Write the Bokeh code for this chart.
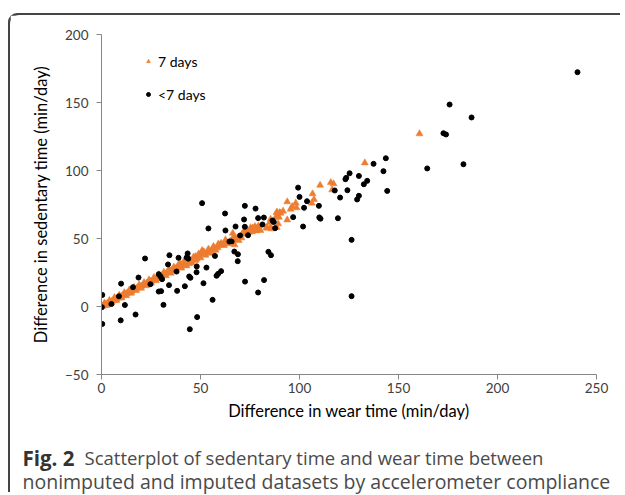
from bokeh.plotting import figure
from bokeh.layouts import column
from bokeh.models import Range1d, Legend, LegendItem, ColumnDataSource
from bokeh.core.properties import value
from bokeh.embed import file_html
from bokeh.resources import INLINE

# ---- data ----
x_ticks = [0, 50, 100, 150, 200, 250]
y_ticks = [-50, 0, 50, 100, 150, 200]
x_title = "Difference in wear time (min/day)"
y_title = "Difference in sedentary time (min/day)"
series_names = ["7 days", "<7 days"]
caption_bold = "Fig. 2"
caption_line1 = "Scatterplot of sedentary time and wear time between"
caption_line2 = "nonimputed and imputed datasets by accelerometer compliance"

full_x = [0.5, 1.2, 2.0, 2.8, 3.5, 4.3, 5.2, 6.0, 6.8, 7.5, 8.4, 9.2, 10.1,
          10.9, 11.8, 12.6, 13.4, 14.3, 15.1, 16.0, 16.8, 17.7, 18.5, 19.4,
          20.2, 21.1, 21.9, 22.8, 23.6, 24.5, 25.3, 26.2, 27.0, 27.9, 28.7, 29.6,
          30.4, 31.3, 32.1, 33.0, 33.8, 34.7, 35.5, 36.4, 37.2, 38.1, 38.9, 39.8,
          40.3, 39.9, 41.6, 42.9, 42.0, 44.1, 44.9, 45.5, 46.3, 47.5, 48.0, 49.1, 50.0,
          50.8, 52.0, 53.4, 54.2, 55.1, 55.9, 56.7, 57.5, 58.7, 59.5, 60.4,
          61.2, 61.9, 62.6, 63.2, 63.9, 65.0, 66.3, 66.8, 67.2, 67.8, 68.5, 69.3, 70.0,
          70.7, 71.0, 71.9, 72.8, 73.6, 74.4, 75.3, 75.0, 76.0, 76.4, 77.0, 77.5, 78.2,
          78.6, 79.2, 79.6, 80.3, 76.5, 77.8, 74.8,
          83.3, 83.8, 85.4, 85.9, 85.4, 85.0, 88.5, 88.0, 89.0, 89.2, 88.4, 90.0, 88.7, 89.6,
          90.4, 91.7, 93.8, 93.8, 95.5, 96.3, 98.1, 98.5,
          106.6, 107.3, 106.2, 110.4, 115.8, 117.2, 116.5, 133.0, 160.6,
          1.5, 4.0, 6.5, 9.0, 11.5, 14.0, 16.5, 19.0, 21.5, 24.0, 26.5, 29.0,
          31.5, 34.0, 36.5, 39.0, 41.5, 44.0, 46.5, 49.0, 51.5, 54.0, 56.5, 59.0,
          2.5, 5.0, 7.5, 10.0, 12.5, 15.0, 17.5, 20.0, 22.5, 25.0, 27.5, 30.0,
          32.5, 35.0, 37.5, 40.0, 42.5, 45.0, 47.5, 50.0, 52.5, 55.0, 57.5]
full_y = [0.2, 0.8, 1.3, 2.1, 2.4, 3.3, 3.8, 4.6, 5.0, 5.8, 6.2, 7.0, 7.4,
          8.3, 8.7, 9.6, 9.9, 10.8, 11.2, 12.1, 12.4, 13.4, 13.7, 14.6,
          15.0, 15.9, 16.2, 17.2, 17.5, 18.4, 18.7, 19.8, 20.1, 21.0, 21.3, 22.3,
          22.6, 23.5, 23.9, 25.0, 25.2, 26.1, 26.5, 27.6, 27.9, 28.7, 29.3, 30.1,
          28.4, 31.4, 30.1, 29.9, 31.6, 31.4, 33.8, 32.5, 35.0, 36.8, 34.9, 36.3, 38.7,
          41.2, 39.7, 39.7, 41.0, 39.2, 41.2, 43.6, 42.0, 43.2, 45.0, 46.5,
          45.2, 44.9, 49.0, 47.0, 46.1, 48.0, 53.9, 51.5, 45.4, 49.0, 50.2, 48.5, 51.0,
          50.5, 53.2, 55.1, 54.0, 55.5, 54.6, 57.9, 56.2, 55.0, 57.8, 56.4, 58.8, 55.6,
          57.5, 59.2, 56.8, 55.9, 56.5, 57.2, 55.8,
          58.1, 57.6, 58.1, 57.1, 64.2, 61.8, 58.1, 65.7, 66.7, 60.8, 69.1, 69.1, 69.3, 65.7,
          68.6, 70.1, 77.0, 63.7, 71.6, 73.5, 76.0, 72.6,
          82.9, 78.7, 76.0, 89.2, 91.2, 90.2, 85.8, 105.6, 127.0,
          2.6, 4.5, 6.6, 8.4, 10.2, 12.1, 14.0, 15.9, 17.6, 19.6, 21.4, 23.4,
          25.2, 27.1, 29.0, 31.0, 32.9, 34.6, 36.4, 38.5, 40.3, 42.2, 44.1, 46.0,
          0.8, 2.6, 4.4, 6.2, 8.0, 9.8, 11.7, 13.5, 15.3, 17.2, 19.0, 20.8,
          22.7, 24.5, 26.4, 28.3, 30.2, 32.0, 33.9, 35.8, 37.7, 39.5, 41.4]

part_x = [0.2, 0.4, 0.4, 5.0, 9.7, 9.9, 8.8, 11.8, 17.2, 15.9, 18.7, 22.0, 24.7,
          28.9, 29.8, 30.6, 34.3, 33.6, 38.9, 37.9, 34.1, 28.9, 30.1, 31.3, 38.2,
          44.6, 48.3, 56.1, 51.5, 44.3, 44.9, 42.1, 48.0, 53.0, 48.1, 43.5, 43.0, 43.8,
          58.1, 58.9, 60.4, 72.5, 68.8, 68.9, 67.1, 79.1, 82.1, 57.3, 84.3, 85.6,
          64.6, 65.7, 70.0, 74.0, 67.7, 62.6, 54.0, 50.8, 62.4, 72.4, 72.0, 72.4,
          77.8, 79.1, 82.0, 81.3, 86.4, 87.0, 87.7, 96.8, 101.8, 99.3, 100.0, 103.8,
          102.3, 109.8, 110.0, 110.6, 119.4, 126.3, 126.3, 117.8, 124.2, 120.5, 130.0,
          129.1, 125.3, 123.6, 123.2, 130.0, 134.2, 132.5, 144.3, 142.4, 137.4, 143.6,
          164.5, 182.8, 172.7, 174.0, 175.8, 186.9, 240.4]
part_y = [-0.5, 8.5, -12.8, 1.8, -10.2, 16.8, 7.5, 1.1, -5.9, 14.2, 21.3, 35.3, 16.4,
          23.8, 22.1, 20.1, 37.7, 30.9, 35.8, 25.7, 15.7, 11.0, 11.3, 1.2, 11.5,
          -16.7, -7.8, 4.9, 17.1, 22.1, 21.1, 14.9, 25.2, 28.6, 29.5, 39.0, 36.0, 35.2,
          22.6, 24.0, 26.0, 18.3, 33.3, 38.4, 40.4, 10.3, 19.4, 37.2, 40.2, 37.7,
          47.8, 47.8, 52.2, 52.4, 58.8, 55.9, 57.4, 76.0, 68.4, 74.0, 64.0, 58.6,
          72.0, 65.0, 65.4, 60.3, 63.2, 62.2, 57.6, 65.7, 58.8, 87.4, 80.6, 77.4,
          72.6, 74.0, 65.5, 64.6, 64.9, 49.0, 7.6, 85.3, 85.5, 80.1, 81.4,
          78.7, 98.0, 94.6, 93.6, 96.0, 92.4, 89.9, 85.0, 99.5, 104.9, 109.0,
          101.5, 104.6, 127.4, 126.5, 148.5, 139.0, 172.3]

ORANGE = "#ED7D31"
AXIS_GRAY = "#868686"
CHART_FONT = "Lato"
CAPTION_FONT = "Open Sans"

X0, X1, Y0, Y1 = 0, 250, -50, 200
# frame placement in page pixels
FL, FR, FT, FB = 101, 596, 34, 374
ORIGIN_X, ORIGIN_Y = 10, 15          # canvas origin (css margin)
W = 614
CHART_BOTTOM = 430                    # page y where the chart canvas ends
CAP_H = 64                            # caption canvas height
H = CHART_BOTTOM - ORIGIN_Y

p = figure(width=W, height=H, output_backend="svg", toolbar_location=None,
           x_range=Range1d(X0, X1), y_range=Range1d(Y0, Y1),
           min_border_left=FL - ORIGIN_X, min_border_right=W - (FR - ORIGIN_X),
           min_border_top=FT - ORIGIN_Y, min_border_bottom=H - (FB - ORIGIN_Y))
p.frame_align = False
p.grid.visible = False
p.outline_line_color = None
p.background_fill_color = "white"
p.border_fill_color = "white"

for ax in (p.xaxis[0], p.yaxis[0]):
    ax.axis_line_color = AXIS_GRAY
    ax.axis_line_width = 1
    ax.major_tick_line_color = AXIS_GRAY
    ax.major_tick_in = 0
    ax.major_tick_out = 5
    ax.minor_tick_line_color = None
    ax.major_label_text_font = CHART_FONT
    ax.major_label_text_font_size = "13.5px"
    ax.major_label_text_color = "#404040"
    ax.axis_label_text_font = CHART_FONT
    ax.axis_label_text_font_size = "16.5px"
    ax.axis_label_text_font_style = "normal"
    ax.axis_label_text_color = "#000000"

p.xaxis.ticker = x_ticks
p.yaxis.ticker = y_ticks
p.xaxis.axis_label = x_title
p.yaxis.axis_label = y_title
p.xaxis.major_label_standoff = 3
p.yaxis.major_label_standoff = 8
p.xaxis.axis_label_standoff = 5
p.yaxis.axis_label_standoff = 11

src_full = ColumnDataSource(dict(x=full_x, y=full_y))
src_part = ColumnDataSource(dict(x=part_x, y=part_y))
r_full = p.scatter("x", "y", source=src_full, marker="triangle", size=7,
                   fill_color=ORANGE, line_color=ORANGE, line_width=0.5)
r_part = p.scatter("x", "y", source=src_part, marker="circle", size=5,
                   fill_color="black", line_color="black")

legend = Legend(items=[LegendItem(label=series_names[0], renderers=[r_full]),
                       LegendItem(label=series_names[1], renderers=[r_part])],
                location=(42, 270), orientation="vertical",
                glyph_width=10, glyph_height=20, label_height=20, label_standoff=5,
                spacing=13, padding=0, margin=0,
                border_line_color=None, background_fill_alpha=0,
                label_text_font=CHART_FONT, label_text_font_size="14px",
                label_text_color="#000000")
p.add_layout(legend, "center")

# ---- caption panel (pixel-scaled canvas below the chart) ----
cap = figure(width=W, height=CAP_H, output_backend="svg", toolbar_location=None,
             x_range=Range1d(0, W), y_range=Range1d(0, CAP_H),
             x_axis_type=None, y_axis_type=None, min_border=0)
cap.frame_align = False
cap.grid.visible = False
cap.outline_line_color = None
cap.background_fill_color = "white"
cap.border_fill_color = "white"

def cap_y(page_y):
    return CAP_H - (page_y - CHART_BOTTOM)

cap_src = ColumnDataSource(dict(
    x=[22 - ORIGIN_X, 84 - ORIGIN_X, 22 - ORIGIN_X],
    y=[cap_y(457), cap_y(457), cap_y(481)],
    t=[caption_bold, caption_line1, caption_line2],
    w=["bold", "normal", "normal"],
    s=["20.5px", "18.5px", "19.5px"],
    c=["#333333", "#4a4a4a", "#4a4a4a"]))
cap.text(x="x", y="y", text="t", source=cap_src, text_font=value(CAPTION_FONT),
         text_font_size="s", text_font_style="w", text_color="c",
         text_baseline="middle", text_align="left")

layout = column(p, cap, spacing=0)
layout.styles = {"margin-left": "%dpx" % ORIGIN_X, "margin-top": "%dpx" % ORIGIN_Y,
                 "background-color": "white",
                 "box-shadow": "-2px -2px 0 0 #444444",
                 "border-top-left-radius": "9px",
                 "clip-path": "inset(-4px 4px 0px -4px)"}

open("out.html", "w").write(file_html(layout, INLINE))
